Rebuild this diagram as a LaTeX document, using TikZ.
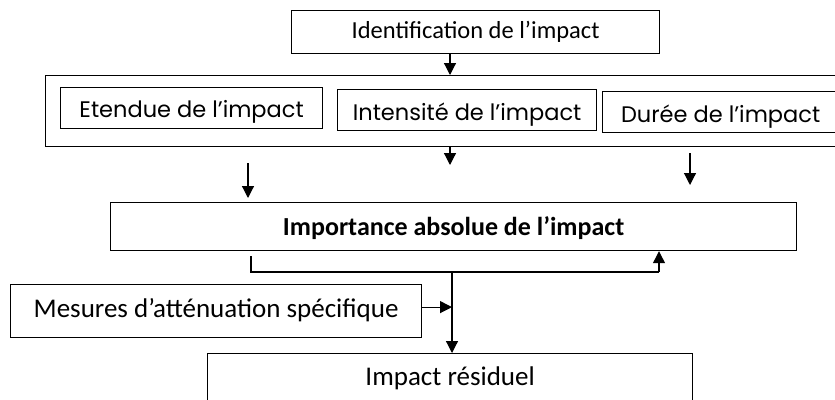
\documentclass[tikz,border=0pt]{standalone}
\usepackage{fontspec}
\setmainfont{Carlito}
\newfontfamily\gothic{Poppins}
\usetikzlibrary{arrows.meta}
\begin{document}
\begin{tikzpicture}[x=1pt, y=-1pt,
    base/.style={rectangle, draw, line width=1.2pt, inner sep=0pt, anchor=north west,
      font=\fontsize{27}{29}\selectfont},
    inner/.style={base, font=\gothic\fontsize{22.5}{25}\selectfont},
    frame/.style={base},
    arr/.style={line width=1.2pt, -{Triangle[width=12pt, length=12pt]}}]
  \clip (0,0) rectangle (835,399);
  % boxes: width, text height (top to baseline), text depth (baseline to bottom)
  \node[base, minimum width=368pt, text height=28pt, text depth=15pt, font=\fontsize{24.5}{27}\selectfont] (ident) at (291,10) {Identification de l’impact};
  \node[frame, minimum width=805pt, minimum height=71pt] (facteurs) at (45,75) {};
  \node[inner, minimum width=262pt, text height=30pt, text depth=11pt] (etendue) at (60,87) {Etendue de l’impact};
  \node[inner, minimum width=259pt, text height=31pt, text depth=10pt] (intensite) at (337,89) {Intensité de l’impact};
  \node[inner, minimum width=236pt, text height=31pt, text depth=10pt] (duree) at (602,91) {Durée de l’impact};
  \node[base, minimum width=686pt, text height=33pt, text depth=15pt, font=\bfseries\fontsize{26}{28}\selectfont] (importance) at (110,202) {Importance absolue de l’impact};
  \node[base, minimum width=411pt, text height=33pt, text depth=20pt] (mesures) at (10,284) {Mesures d’atténuation spécifique};
  \node[base, minimum width=485pt, text height=32pt, text depth=35pt] (residuel) at (207,353) {Impact résiduel};
  % free ends
  \coordinate (gauche) at (248,163);
  \coordinate (milieu) at (450,165);
  \coordinate (droite) at (690,153);
  \coordinate (retour) at (659,272);
  \coordinate (jonction) at (452,272);
  % connectors
  \draw[arr] (ident.south -| milieu) -- (facteurs.north -| milieu);
  \draw[arr] (facteurs.south -| milieu) -- (milieu);
  \draw[arr] (gauche) -- ([yshift=4pt]importance.north -| gauche);
  \draw[arr] (droite) -- ([yshift=17pt]importance.north -| droite);
  \draw[line width=1.2pt] ([yshift=-5pt]importance.south -| 251,0) |- (retour);
  \draw[arr] (retour) -- (importance.south -| retour);
  \draw[arr] (jonction) -- (residuel.north -| jonction);
  \draw[arr] ([yshift=4pt]mesures.east) -- ([yshift=4pt]mesures.east -| jonction);
\end{tikzpicture}
\end{document}
